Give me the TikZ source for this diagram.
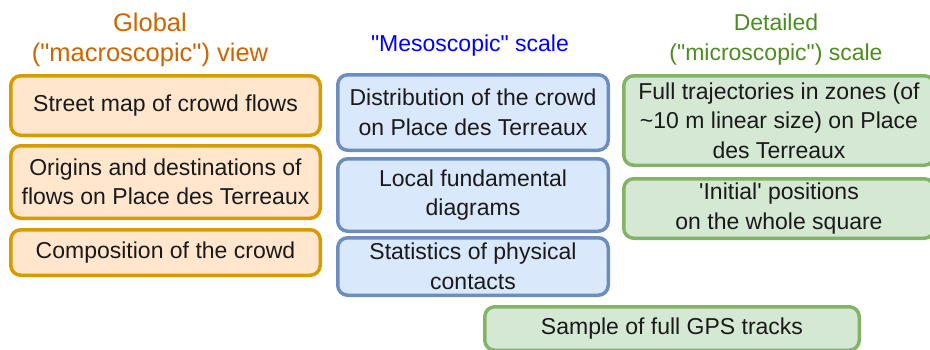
\documentclass[tikz,border=0pt]{standalone}
\usepackage{fontspec}
\setmainfont{Liberation Sans}
\definecolor{macfill}{HTML}{FFE6CC}
\definecolor{macline}{HTML}{D79B00}
\definecolor{mesfill}{HTML}{DAE8FC}
\definecolor{mesline}{HTML}{6C8EBF}
\definecolor{micfill}{HTML}{D5E8D4}
\definecolor{micline}{HTML}{82B366}
\definecolor{mactitle}{HTML}{CC6600}
\definecolor{mestitle}{HTML}{0000FF}
\definecolor{mictitle}{HTML}{4D8C1E}
\definecolor{boxtext}{HTML}{1A1A1A}
\begin{document}
\begin{tikzpicture}[x=1pt, y=-1pt,
    box/.style={rounded corners=10pt, line width=3.5pt, align=center,
        text=boxtext, inner sep=0pt, font=\fontsize{23}{29.5}\selectfont},
    macbox/.style={box, draw=macline, fill=macfill},
    mesbox/.style={box, draw=mesline, fill=mesfill},
    micbox/.style={box, draw=micline, fill=micfill},
    title/.style={align=center, font=\fontsize{23}{30}\selectfont}]
\useasboundingbox (0,0) rectangle (930,349);

% titles
\node[title, text=mactitle, font=\fontsize{25.5}{30}\selectfont] (mactop) at (150,40) {Global\\(\textquotedbl macroscopic\textquotedbl) view};
\node[title, text=mestitle] (mestop) at (470,46) {\textquotedbl Mesoscopic\textquotedbl{} scale};
\node[title, text=mictitle] (mictop) at (776,40) {Detailed\\(\textquotedbl microscopic\textquotedbl) scale};

% global view
\node[macbox, minimum width=309.5, minimum height=59.5] (streets) at (165.5,105.5) {Street map of crowd flows};
\node[macbox, minimum width=309.5, minimum height=72.5] (origins) at (165.5,182) {Origins and destinations of\\flows on Place des Terreaux};
\node[macbox, minimum width=309.5, minimum height=45.5] (composition) at (165.5,252.5) {Composition of the crowd};

% mesoscopic scale
\node[mesbox, minimum width=270.5, minimum height=75.5] (distribution) at (473,112.5) {Distribution of the crowd\\on Place des Terreaux};
\node[mesbox, minimum width=270.5, minimum height=72.5] (fundamental) at (473,195) {Local fundamental\\diagrams};
\node[mesbox, minimum width=270.5, minimum height=57.5] (contacts) at (473,266.5) {Statistics of physical\\contacts};

% microscopic scale
\node[micbox, minimum width=310.5, minimum height=89.5] (trajectories) at (779,120.5) {Full trajectories in zones (of\\\textasciitilde10 m linear size) on Place\\des Terreaux};
\node[micbox, minimum width=310.5, minimum height=59.5] (initial) at (779,208.5) {\textquotesingle Initial\textquotesingle{} positions\\on the whole square};
\node[micbox, minimum width=374.5, minimum height=43.5] (gps) at (672,328.5) {Sample of full GPS tracks};

\end{tikzpicture}
\end{document}
